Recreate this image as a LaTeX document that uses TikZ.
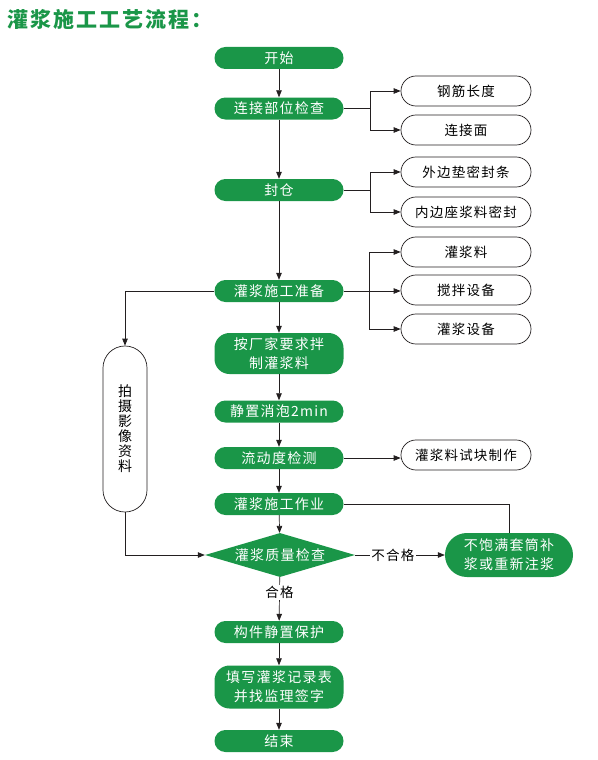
\documentclass[tikz,border=0pt]{standalone}
\usepackage{fontspec}
\usepackage{xcolor}
\usepackage{tikz}
\usetikzlibrary{arrows.meta, shapes.geometric}

\newfontfamily\cjk[LetterSpace=9]{Noto Sans CJK SC}
\newfontfamily\cjkt[LetterSpace=10]{Noto Sans CJK SC}
\definecolor{grgreen}{RGB}{26,150,72}
\definecolor{linegray}{RGB}{35,31,32}

\begin{document}
\begin{tikzpicture}[x=1pt, y=-1pt,
		gbox/.style={fill=grgreen, text=white, rounded corners=10.9pt, minimum width=129pt, minimum height=22pt, inner sep=0pt, align=center, font=\cjk\fontsize{14}{19}\selectfont},
		wbox/.style={draw=linegray, fill=white, line width=0.7pt, rounded corners=14.9pt, minimum width=130pt, minimum height=30pt, inner sep=0pt, font=\cjk\fontsize{13.5}{16}\selectfont},
		arr/.style={draw=linegray, line width=0.7pt, -{Triangle[length=7pt,width=5.5pt]}},
		ln/.style={draw=linegray, line width=0.7pt},
		lbl/.style={fill=white, inner sep=1.5pt, font=\cjk\fontsize{13.5}{16}\selectfont}]
		\useasboundingbox (0,0) rectangle (597,760);

		% Title
		\node[anchor=west, inner sep=0pt, text=grgreen, font=\cjkt\bfseries\fontsize{21}{24}\selectfont] (title) at (7,19) {灌浆施工工艺流程：};

		% Main column
		\node[gbox] (start) at (279,58) {开始};
		\node[gbox] (check) at (279,108.5) {连接部位检查};
		\node[gbox] (seal) at (279,190) {封仓};
		\node[gbox] (prep) at (279,291) {灌浆施工准备};
		\node[gbox, minimum height=41pt, rounded corners=15pt] (mix) at (279,353.5) {按厂家要求拌\\制灌浆料};
		\node[gbox] (rest) at (279,411.5) {静置消泡2min};
		\node[gbox] (flow) at (279,458) {流动度检测};
		\node[gbox] (grout) at (279,504) {灌浆施工作业};
		\node[diamond, aspect=3.4, fill=grgreen, text=white, minimum width=150pt, minimum height=44pt, inner sep=0pt, font=\cjk\fontsize{14}{17}\selectfont] (qc) at (280,555) {灌浆质量检查};
		\node[gbox] (protect) at (279,632) {构件静置保护};
		\node[gbox, minimum height=43pt, rounded corners=15pt] (record) at (279,687) {填写灌浆记录表\\并找监理签字};
		\node[gbox] (finish) at (279,741) {结束};

		% Side boxes
		\node[wbox] (rebar) at (466,91) {钢筋长度};
		\node[wbox] (face) at (466,130) {连接面};
		\node[wbox] (outer) at (466,172) {外边垫密封条};
		\node[wbox] (inner) at (466,212) {内边座浆料密封};
		\node[wbox] (mat) at (466,252) {灌浆料};
		\node[wbox] (mixer) at (466,290) {搅拌设备};
		\node[wbox] (pump) at (466,329) {灌浆设备};
		\node[wbox] (cube) at (466,455) {灌浆料试块制作};
		\node[wbox, minimum width=44pt, minimum height=166pt, rounded corners=21.9pt, align=center, font=\cjk\fontsize{14}{15}\selectfont] (photo) at (125,429) {拍\\摄\\影\\像\\资\\料};
		\node[gbox, minimum width=128pt, minimum height=44pt, rounded corners=21.9pt] (redo) at (509,555) {不饱满套筒补\\浆或重新注浆};

		% Branch points
		\coordinate (b1) at (370,108.5);
		\coordinate (b2) at (370,190);
		\coordinate (b3) at (369,291);

		% Main arrows
		\draw[arr] (start) -- (check);
		\draw[arr] (check) -- (seal);
		\draw[arr] (seal) -- (prep);
		\draw[arr] (prep) -- (mix);
		\draw[arr] (mix) -- (rest);
		\draw[arr] (rest) -- (flow);
		\draw[arr] (flow) -- (grout);
		\draw[arr] (grout) -- (qc);
		\draw[arr] (qc) -- node[lbl, pos=0.35] {合格} (protect);
		\draw[arr] (protect) -- (record);
		\draw[arr] (record) -- (finish);

		% Branches
		\draw[ln] (check.east) -- (b1);
		\draw[arr] (b1) |- (rebar.west);
		\draw[arr] (b1) |- (face.west);
		\draw[ln] (seal.east) -- (b2);
		\draw[arr] (b2) |- (outer.west);
		\draw[arr] (b2) |- (inner.west);
		\draw[ln] (prep.east) -- (b3);
		\draw[arr] (b3) |- (mat.west);
		\draw[arr] (b3) -- (b3 -| mixer.west);
		\draw[arr] (b3) |- (pump.west);
		\draw[arr] (flow.east) -- (flow.east -| cube.west);

		% Photo record and rework loop
		\draw[arr] (prep.west) -| (photo.north);
		\draw[arr] (photo.south) |- (qc.west);
		\draw[arr] (qc.east) -- node[lbl, pos=0.42] {不合格} (redo.west);
		\draw[ln] (grout.east) -| (redo.north);
	\end{tikzpicture}
\end{document}
